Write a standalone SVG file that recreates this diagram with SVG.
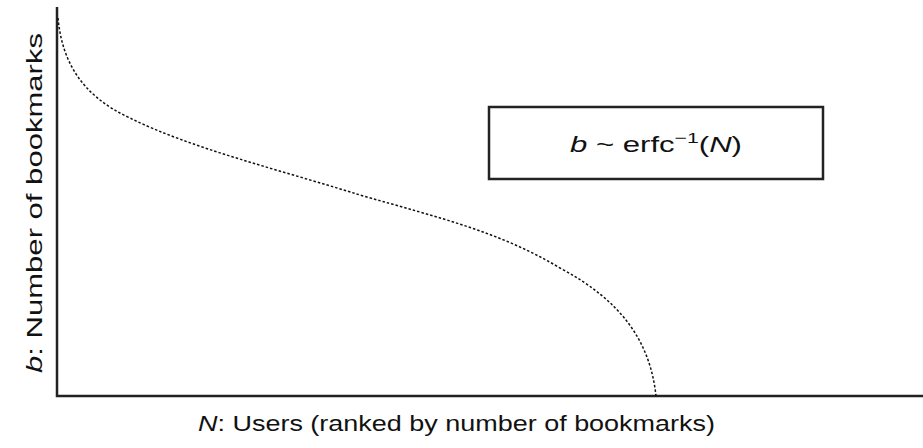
<svg xmlns="http://www.w3.org/2000/svg" width="923" height="448" viewBox="0 0 923 448">
<style>
.ax{stroke:#222;stroke-width:2.5;fill:none}
.curve{stroke:#111;stroke-width:1.5;fill:none;stroke-dasharray:2.5 2}
.lbl{font-family:"Liberation Sans",Arial,sans-serif;font-size:22px;fill:#111}
</style>
<rect width="923" height="448" fill="#fff"/>
<g id="axes">
<path class="ax" d="M57,7 V396 H923"/>
</g>
<g id="connectors">
<path class="curve" d="M58,18 C62,60 80,95 130,118 C190,148 280,170 360,195 C440,218 500,232 560,268 C620,300 650,340 656,396"/>
</g>
<g id="formula">
<rect x="489" y="107" width="334" height="72" fill="none" stroke="#222" stroke-width="2.5"/>
<text class="lbl" x="570" y="152" textLength="172" lengthAdjust="spacingAndGlyphs"><tspan font-style="italic">b</tspan> ~ erfc<tspan dy="-9" font-size="15">−1</tspan><tspan dy="9">(</tspan><tspan font-style="italic">N</tspan>)</text>
</g>
<text class="lbl" x="198" y="431" textLength="517" lengthAdjust="spacingAndGlyphs"><tspan font-style="italic">N</tspan>: Users (ranked by number of bookmarks)</text>
<text class="lbl" transform="translate(42,373) rotate(-90)" textLength="340" lengthAdjust="spacingAndGlyphs"><tspan font-style="italic">b</tspan>: Number of bookmarks</text>
</svg>
